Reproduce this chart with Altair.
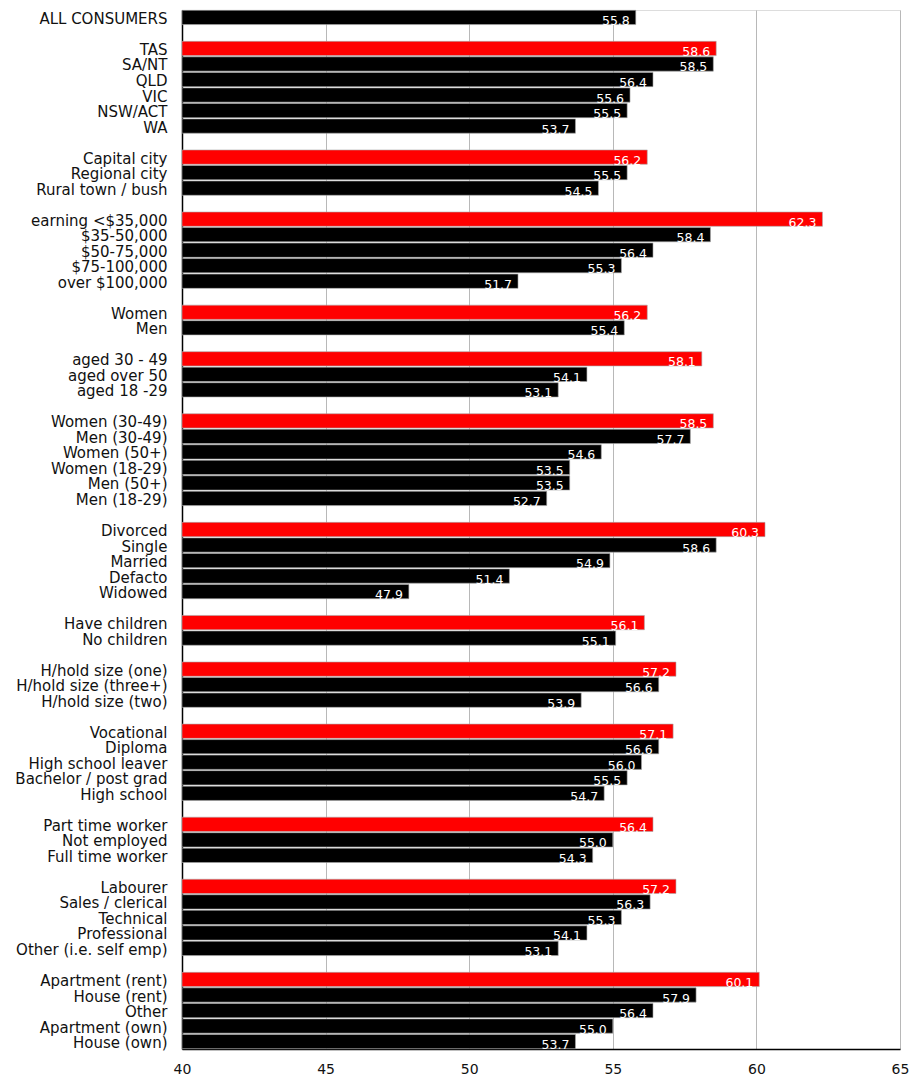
import altair as alt
import pandas as pd

all_labels = ["ALL CONSUMERS"]
all_values = [55.8]

state_labels = ["TAS", "SA/NT", "QLD", "VIC", "NSW/ACT", "WA"]
state_values = [58.6, 58.5, 56.4, 55.6, 55.5, 53.7]

area_labels = ["Capital city", "Regional city", "Rural town / bush"]
area_values = [56.2, 55.5, 54.5]

income_labels = ["earning <$35,000", "$35-50,000", "$50-75,000", "$75-100,000", "over $100,000"]
income_values = [62.3, 58.4, 56.4, 55.3, 51.7]

gender_labels = ["Women", "Men"]
gender_values = [56.2, 55.4]

age_labels = ["aged 30 - 49", "aged over 50", "aged 18 -29"]
age_values = [58.1, 54.1, 53.1]

gender_age_labels = ["Women (30-49)", "Men (30-49)", "Women (50+)", "Women (18-29)", "Men (50+)", "Men (18-29)"]
gender_age_values = [58.5, 57.7, 54.6, 53.5, 53.5, 52.7]

marital_labels = ["Divorced", "Single", "Married", "Defacto", "Widowed"]
marital_values = [60.3, 58.6, 54.9, 51.4, 47.9]

children_labels = ["Have children", "No children"]
children_values = [56.1, 55.1]

hhold_labels = ["H/hold size (one)", "H/hold size (three+)", "H/hold size (two)"]
hhold_values = [57.2, 56.6, 53.9]

edu_labels = ["Vocational", "Diploma", "High school leaver", "Bachelor / post grad", "High school"]
edu_values = [57.1, 56.6, 56.0, 55.5, 54.7]

work_labels = ["Part time worker", "Not employed", "Full time worker"]
work_values = [56.4, 55.0, 54.3]

occ_labels = ["Labourer", "Sales / clerical", "Technical", "Professional", "Other (i.e. self emp)"]
occ_values = [57.2, 56.3, 55.3, 54.1, 53.1]

home_labels = ["Apartment (rent)", "House (rent)", "Other", "Apartment (own)", "House (own)"]
home_values = [60.1, 57.9, 56.4, 55.0, 53.7]

groups = [
    (all_labels, all_values, False),
    (state_labels, state_values, True),
    (area_labels, area_values, True),
    (income_labels, income_values, True),
    (gender_labels, gender_values, True),
    (age_labels, age_values, True),
    (gender_age_labels, gender_age_values, True),
    (marital_labels, marital_values, True),
    (children_labels, children_values, True),
    (hhold_labels, hhold_values, True),
    (edu_labels, edu_values, True),
    (work_labels, work_values, True),
    (occ_labels, occ_values, True),
    (home_labels, home_values, True),
]

rows = []
domain = []
for gi, (labs, vals, highlight) in enumerate(groups):
    if gi > 0:
        domain.append(" " * gi)
    for i, (l, v) in enumerate(zip(labs, vals)):
        domain.append(l)
        rows.append({"label": l, "value": v, "top": "red" if (highlight and i == 0) else "black",
                     "txt": f"{v:.1f}"})

df = pd.DataFrame(rows)

FONT = "DejaVu Sans"

y = alt.Y("label:N", scale=alt.Scale(domain=domain, paddingInner=0.08, paddingOuter=0.02),
          axis=alt.Axis(title=None, labelFontSize=15, labelFont=FONT, labelColor="#111",
                        labelPadding=15, labelOffset=1.5, ticks=False, domainColor="#000",
                        domainWidth=1.5, labelLimit=300))
x = alt.X("value:Q", scale=alt.Scale(domain=[40, 65], zero=False, nice=False),
          axis=alt.Axis(title=None, values=[40, 45, 50, 55, 60, 65], labelFontSize=14, labelFont=FONT,
                        labelColor="#111", labelPadding=13, ticks=False, domainColor="#000",
                        domainWidth=1.5, gridColor="#b8b8b8", gridWidth=1, labelFlush=False))

base = alt.Chart(df)
bars = base.mark_bar(stroke="#aaaaaa", strokeWidth=0.6).encode(
    y=y, x=x, x2=alt.datum(40),
    color=alt.Color("top:N", scale=alt.Scale(domain=["red", "black"], range=["#ff0000", "#000000"]), legend=None),
)
text = base.mark_text(align="right", baseline="alphabetic", dx=-6, dy=7.5, color="white",
                      font=FONT, fontSize=12.5).encode(
    y=alt.Y("label:N", scale=alt.Scale(domain=domain)), x="value:Q", text="txt:N")

chart = (bars + text).properties(
    width=718, height=1039,
    autosize=alt.AutoSizeParams(type="none"),
    padding={"left": 182, "top": 10, "right": 22, "bottom": 34},
).configure_view(stroke="#aaaaaa", strokeWidth=1.2).configure(background="white")

chart.save("out.html", embed_options={"renderer": "svg", "actions": False})
